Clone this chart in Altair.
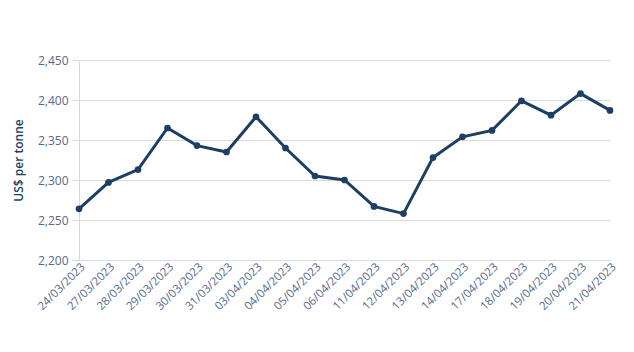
import altair as alt
import pandas as pd

dates = ["24/03/2023", "27/03/2023", "28/03/2023", "29/03/2023", "30/03/2023",
         "31/03/2023", "03/04/2023", "04/04/2023", "05/04/2023", "06/04/2023",
         "11/04/2023", "12/04/2023", "13/04/2023", "14/04/2023", "17/04/2023",
         "18/04/2023", "19/04/2023", "20/04/2023", "21/04/2023"]
prices = [2264, 2297, 2313, 2365, 2343, 2335, 2379, 2340, 2305, 2300,
          2267, 2258, 2328, 2354, 2362, 2399, 2381, 2408, 2387]

df = pd.DataFrame({"date": dates, "price": prices})

FONT = "Open Sans"
LINE = "#1d3f63"
LABEL = "#566a8e"
GRID = "#d9d9d9"

base = alt.Chart(df).encode(
    x=alt.X("date:N", sort=dates,
            scale=alt.Scale(type="point", padding=0),
            axis=alt.Axis(title=None, labelAngle=-45, labelAlign="right",
                          labelBaseline="middle", labelPadding=5, labelOffset=4,
                          ticks=False, domain=False, labelColor=LABEL,
                          labelFontSize=11.5, labelFont=FONT, grid=False)),
    y=alt.Y("price:Q", scale=alt.Scale(domain=[2200, 2450], nice=False, zero=False),
            axis=alt.Axis(title="US$ per tonne", values=[2200, 2250, 2300, 2350, 2400, 2450],
                          format=",.0f", labelColor=LABEL, labelFontSize=12, labelFont=FONT,
                          titleFont=FONT, titleFontSize=12, titleColor=LINE,
                          titleFontWeight=600, titlePadding=12,
                          tickSize=7, tickColor=GRID, gridColor=GRID,
                          domain=True, domainColor=GRID, labelPadding=4)),
)

line = base.mark_line(color=LINE, strokeWidth=3)
pts = base.mark_circle(color=LINE, size=45, opacity=1)

chart = alt.layer(line, pts).properties(
    width=531, height=200,
    background="white",
    autosize=alt.AutoSizeParams(type="none"),
    padding={"left": 79, "top": 60, "right": 24, "bottom": 92},
).configure_view(stroke=None)

chart.save("out.html", embed_options={"renderer": "svg", "actions": False})
